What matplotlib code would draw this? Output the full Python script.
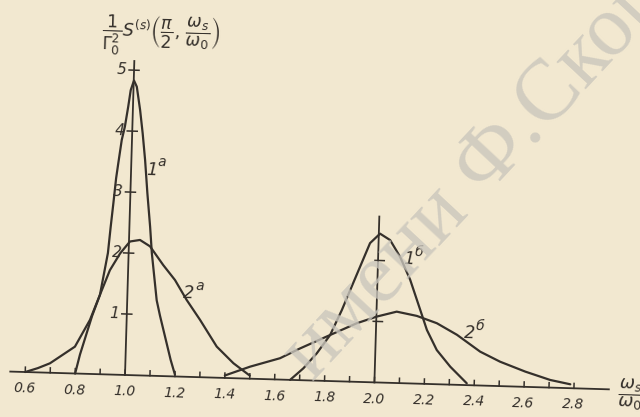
import matplotlib
matplotlib.use("Agg")
import matplotlib.pyplot as plt
from matplotlib.transforms import Affine2D

# ---- data (x = omega_s/omega_0, y = S/Gamma0^2) ----
x_1a = [0.80, 0.817, 0.861, 0.890, 0.917, 0.925, 0.933, 0.941, 0.948, 0.959,
        0.970, 0.981, 0.989, 1.001, 1.013, 1.029, 1.042, 1.055, 1.068, 1.083,
        1.093, 1.118, 1.133, 1.163, 1.181, 1.200]
y_1a = [0.00, 0.31, 0.95, 1.30, 1.99, 2.42, 2.81, 3.22, 3.47, 3.85,
        4.07, 4.40, 4.67, 4.83, 4.73, 4.35, 3.97, 3.53, 2.99, 2.44,
        2.01, 1.24, 0.99, 0.54, 0.27, 0.03]

x_2a = [0.60, 0.65, 0.698, 0.796, 0.853, 0.890, 0.927, 0.966, 1.004, 1.044,
        1.085, 1.140, 1.189, 1.238, 1.294, 1.364, 1.433, 1.50]
y_2a = [0.00, 0.07, 0.155, 0.44, 0.885, 1.30, 1.71, 1.99, 2.19, 2.22,
        2.12, 1.82, 1.58, 1.26, 0.94, 0.51, 0.245, 0.05]

x_1b = [1.662, 1.714, 1.766, 1.817, 1.861, 1.892, 1.929, 1.966, 2.005,
        2.046, 2.088, 2.131, 2.175, 2.204, 2.246, 2.302, 2.370]
y_1b = [0.00, 0.197, 0.45, 0.755, 1.17, 1.50, 1.89, 2.28, 2.44,
        2.34, 2.07, 1.70, 1.21, 0.885, 0.56, 0.294, 0.03]

x_2b = [1.40, 1.50, 1.619, 1.698, 1.817, 1.922, 2.002, 2.081, 2.162, 2.243,
        2.325, 2.420, 2.501, 2.603, 2.704, 2.785]
y_2b = [0.04, 0.197, 0.35, 0.52, 0.755, 0.96, 1.08, 1.17, 1.11, 1.00,
        0.82, 0.555, 0.40, 0.25, 0.125, 0.064]

x_ticks = [round(0.6 + 0.1 * i, 1) for i in range(23)]
x_ticklabels = ["0.6", "0.8", "1.0", "1.2", "1.4", "1.6", "1.8", "2.0",
                "2.2", "2.4", "2.6", "2.8"]
y_ticks = [1, 2, 3, 4, 5]
y_ticks_right = [1, 2]

INK = "#35302b"
PAPER = "#f2e8d0"

fig = plt.figure(figsize=(6.4, 4.17), dpi=100)
fig.patch.set_facecolor(PAPER)
ax = fig.add_axes([0, 0, 1, 1])
ax.set_facecolor(PAPER)
ax.axis("off")
ax.set_xlim(0.499, 3.064)
ax.set_ylim(-0.689, 6.148)

# the scanned page is turned a little clockwise
T = ax.transData + Affine2D().rotate_deg_around(125, 417 - 375, -1.7)
ROT = -1.7

# watermark of the library stamp
fig.text(0.49, 0.085, "имени Ф.Скорины", fontsize=62, family="Liberation Serif",
         color="#cac6bc", alpha=0.8, rotation=47, rotation_mode="anchor",
         ha="left", va="baseline")

# axes
ax.plot([0.54, 2.94], [0, 0], color=INK, lw=1.3, transform=T)
ax.plot([1.0, 1.0], [0, 5.15], color=INK, lw=1.3, transform=T)
ax.plot([2.0, 2.0], [0, 2.72], color=INK, lw=1.3, transform=T)
for xt in x_ticks:
    ax.plot([xt, xt], [0, 0.08], color=INK, lw=1.1, transform=T)
for yt in y_ticks:
    ax.plot([0.98, 1.02], [yt, yt], color=INK, lw=1.1, transform=T)
    ax.text(0.972, yt, str(yt), ha="right", va="center", fontsize=11,
            style="italic", color=INK, transform=T, rotation=ROT)
for yt in y_ticks_right:
    ax.plot([1.988, 2.025], [yt, yt], color=INK, lw=1.1, transform=T)

for lab in x_ticklabels:
    ax.text(float(lab), -0.27, lab, ha="center", va="center", fontsize=10,
            style="italic", color=INK, transform=T, rotation=ROT)

# curves
for xs, ys in [(x_1a, y_1a), (x_2a, y_2a), (x_1b, y_1b), (x_2b, y_2b)]:
    ax.plot(xs, ys, color=INK, lw=1.6, solid_capstyle="round",
            solid_joinstyle="round", transform=T)

# curve labels
for num, sup, p1, p2 in [("1", "a", (1.084, 3.37), (1.123, 3.51)),
                         ("2", "a", (1.243, 1.375), (1.290, 1.50)),
                         ("1", "б", (2.125, 2.04), (2.164, 2.16)),
                         ("2", "б", (2.374, 0.856), (2.417, 0.976))]:
    ax.text(p1[0], p1[1], num, ha="center", va="center", fontsize=12.5,
            style="italic", color=INK, transform=T, rotation=ROT)
    ax.text(p2[0], p2[1], sup, ha="center", va="center", fontsize=10,
            style="italic", color=INK, transform=T, rotation=ROT)

# axis titles
ax.text(1.104, 5.56,
        r"$\dfrac{1}{\Gamma_0^2}S^{(s)}\left(\dfrac{\pi}{2},\,\dfrac{\omega_s}{\omega_0}\right)$",
        ha="center", va="center", fontsize=12.5, color=INK, transform=T,
        rotation=ROT)
ax.text(3.025, -0.08, r"$\dfrac{\omega_s}{\omega_0}$", ha="center", va="center",
        fontsize=13, color=INK, transform=T, rotation=ROT)

fig.savefig("out.png", dpi=100, facecolor=PAPER)
